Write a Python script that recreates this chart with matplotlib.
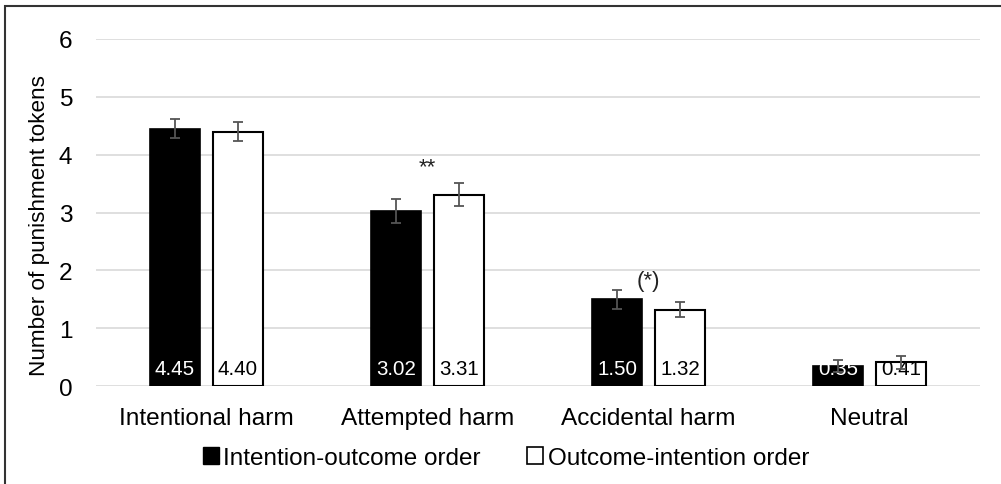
import matplotlib
matplotlib.use("Agg")
import matplotlib.pyplot as plt
import numpy as np
from matplotlib.patches import Patch, Rectangle

categories = ["Intentional harm", "Attempted harm", "Accidental harm", "Neutral"]
series_names = ["Intention-outcome order", "Outcome-intention order"]
io_values = [4.45, 3.02, 1.50, 0.35]
oi_values = [4.40, 3.31, 1.32, 0.41]
io_err = [0.17, 0.21, 0.16, 0.10]
oi_err = [0.165, 0.20, 0.13, 0.11]
annotations = {1: "**", 2: "(*)"}
annot_y = {1: 3.8, 2: 1.83}
yticks = [0, 1, 2, 3, 4, 5, 6]

plt.rcParams['font.family'] = ['Liberation Sans', 'DejaVu Sans']

fig = plt.figure(figsize=(10.01, 4.85), dpi=100)
ax = fig.add_axes([96/1001, 1-387/485, (980-96)/1001, (387-40)/485])

x = np.arange(len(categories))
w = 0.23
off = 0.1425
ax.bar(x - off, io_values, w, color="black", edgecolor="black", linewidth=1.2, zorder=2)
ax.bar(x + off, oi_values, w, color="white", edgecolor="black", linewidth=1.5, zorder=2)
ax.errorbar(x - off, io_values, yerr=io_err, fmt="none", ecolor="#555555", elinewidth=1.3, capsize=3.5, capthick=1.3, zorder=4)
ax.errorbar(x + off, oi_values, yerr=oi_err, fmt="none", ecolor="#555555", elinewidth=1.3, capsize=3.5, capthick=1.3, zorder=4)

for i in range(len(categories)):
    ax.text(x[i] - off, 0.2, f"{io_values[i]:.2f}", ha="center", va="baseline", color="white", fontsize=14.8, zorder=3)
    ax.text(x[i] + off, 0.2, f"{oi_values[i]:.2f}", ha="center", va="baseline", color="black", fontsize=14.8, zorder=3)

for k, s in annotations.items():
    ax.text(x[k], annot_y[k], s, ha="center", va="center", fontsize=16, color="#222222")

ax.set_xlim(-0.5, len(categories) - 0.5)
ax.set_ylim(0, 6)
ax.set_yticks(yticks)
ax.set_xticks(x)
ax.set_xticklabels(categories, fontsize=17.6)
ax.tick_params(axis="y", labelsize=17.6, length=0, pad=17)
ax.tick_params(axis="x", length=0, pad=15)
ax.yaxis.grid(True, color="#d9d9d9", linewidth=1.2, zorder=0)
ax.set_axisbelow(True)
for sp in ax.spines.values():
    sp.set_visible(False)
ax.set_ylabel("Number of punishment tokens", fontsize=16.2)
ax.yaxis.set_label_coords(-0.052, 0.465)

handles = [Patch(facecolor="black", edgecolor="black"), Patch(facecolor="white", edgecolor="black", linewidth=1.2)]
fig.legend(handles, series_names, loc="center", bbox_to_anchor=(506/1001, 1-459/485), ncol=2,
           frameon=False, fontsize=17.5, handlelength=0.65, handleheight=0.65, handletextpad=0.2,
           columnspacing=1.9, borderpad=0)

fig.patches.append(Rectangle((5/1001, -0.05), 1.0, 1-7/485+0.05, transform=fig.transFigure,
                             fill=False, edgecolor="#333333", linewidth=1.5))

fig.savefig("out.png", dpi=100)
